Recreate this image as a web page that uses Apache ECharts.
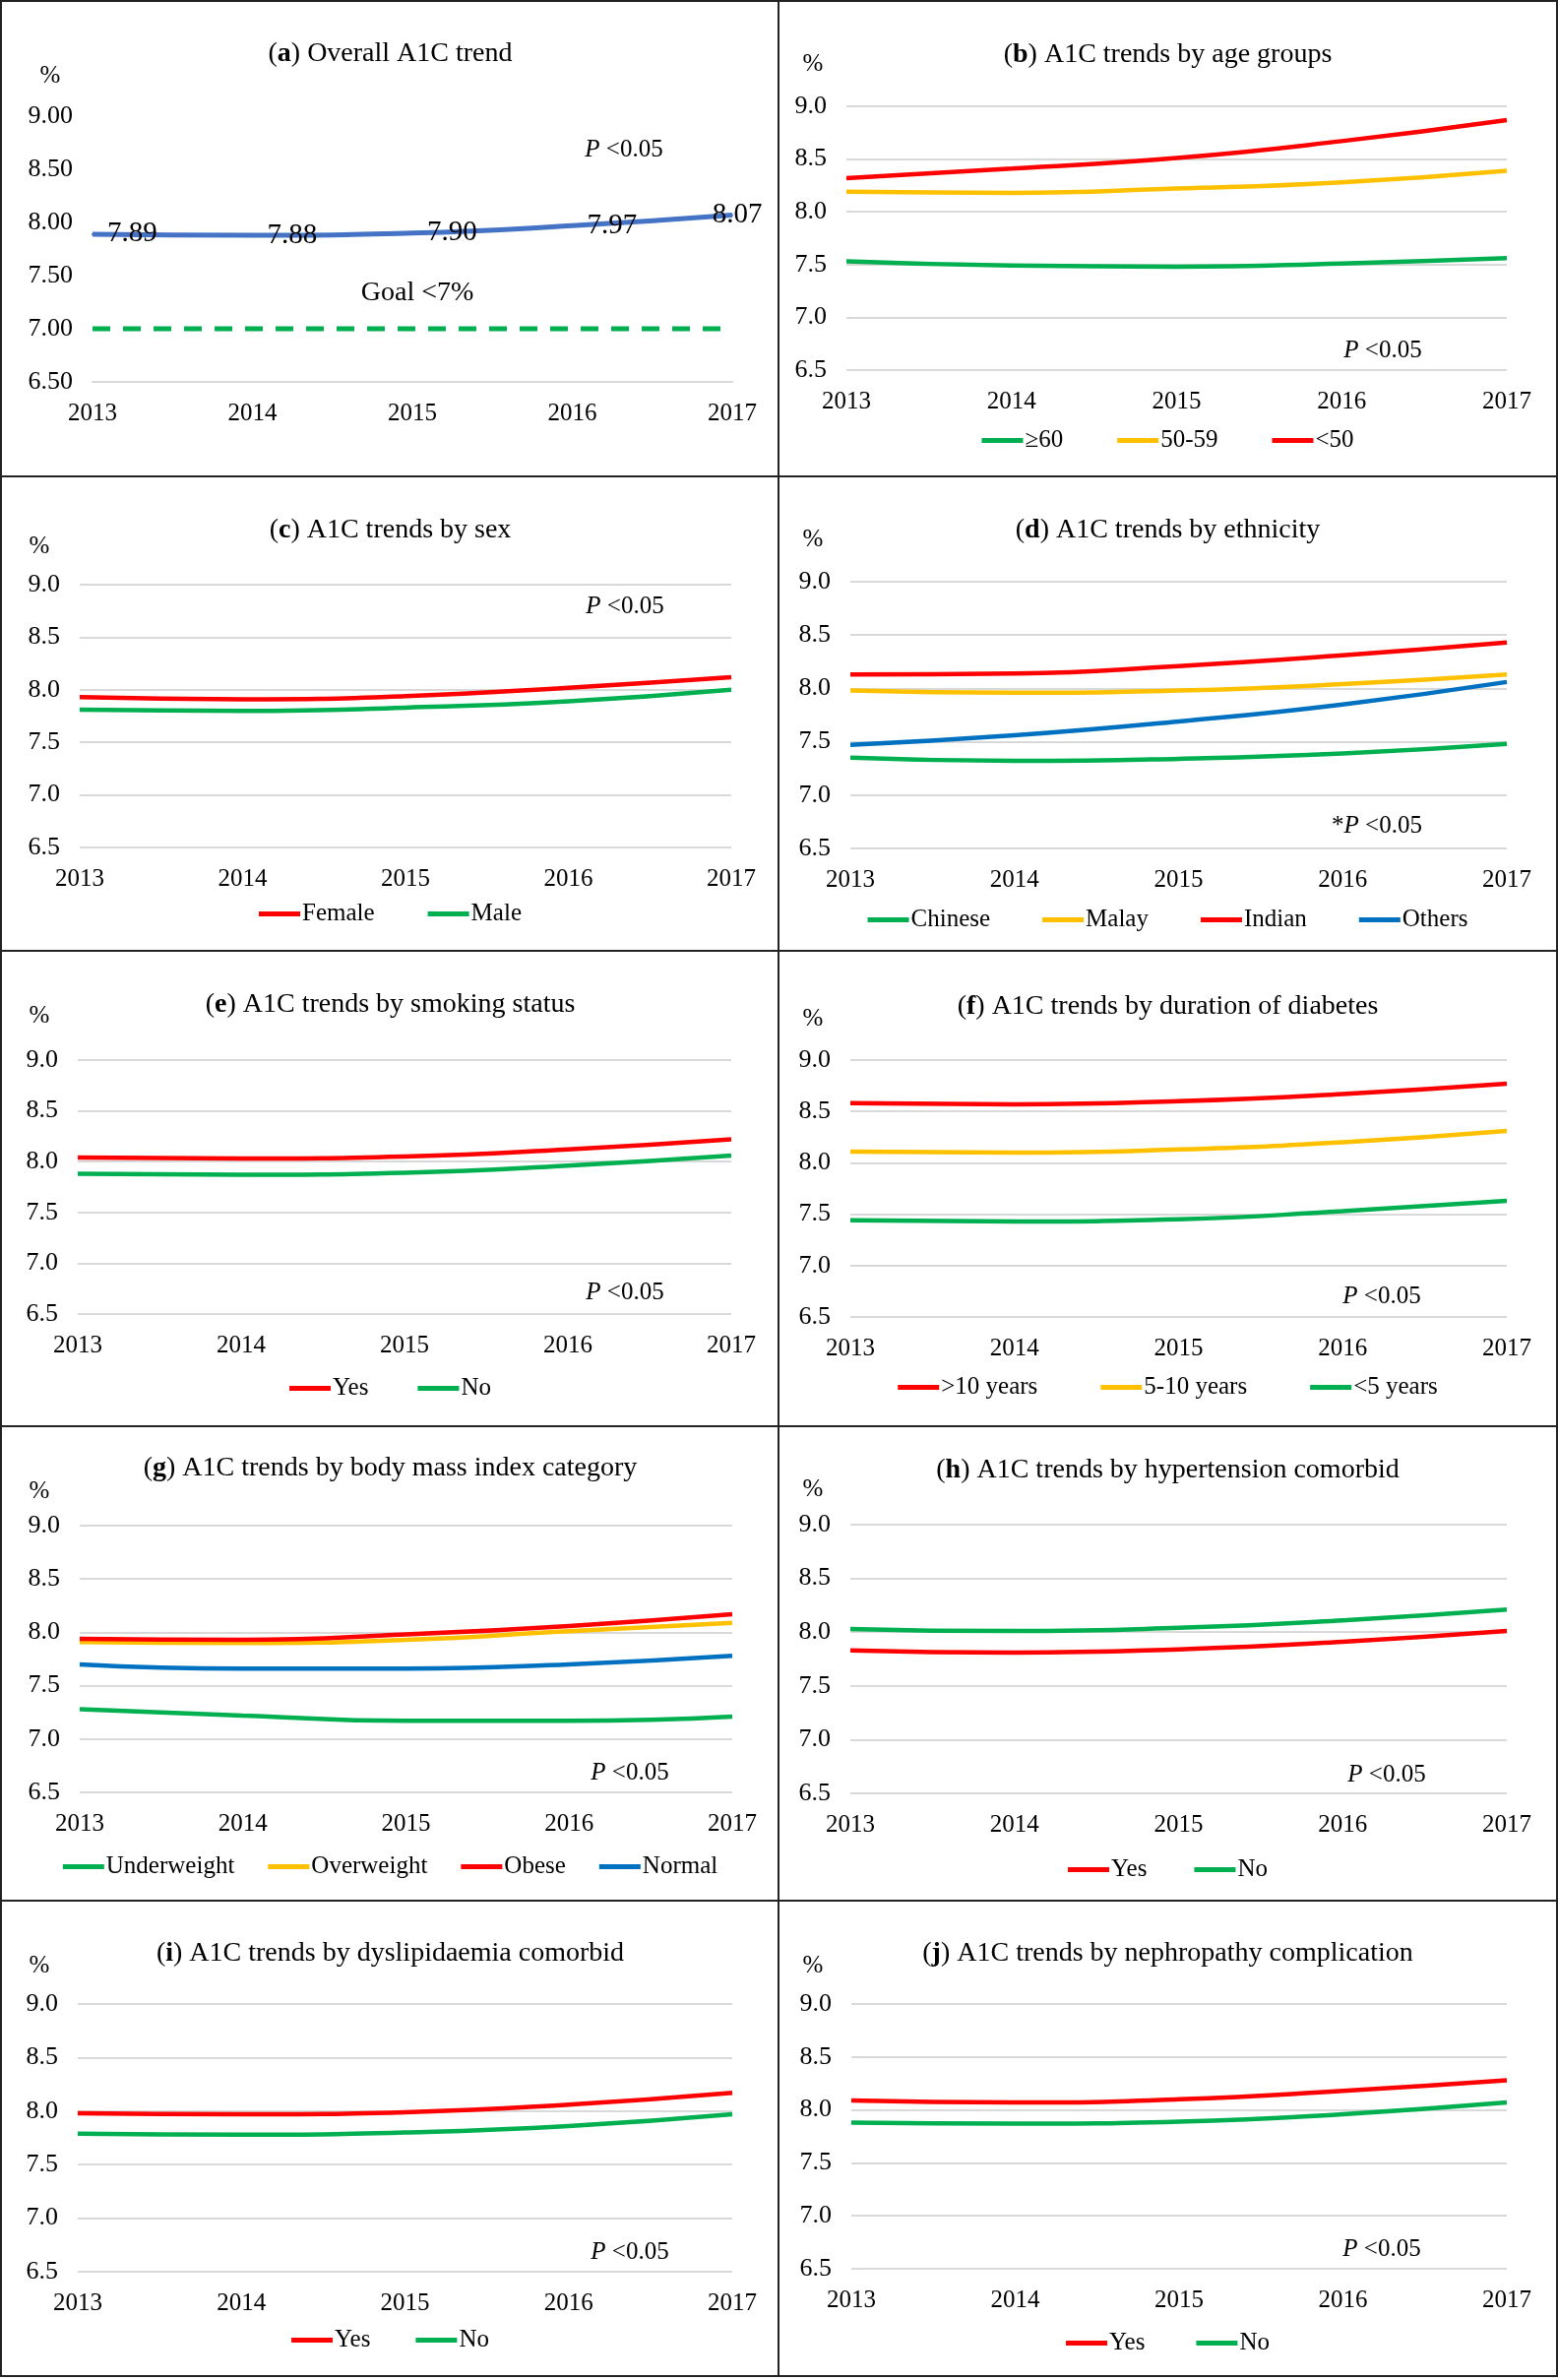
<!DOCTYPE html>
<html>
<head>
<meta charset="utf-8">
<script src="https://cdn.jsdelivr.net/npm/echarts@6/dist/echarts.min.js"></script>
<style>
html, body { margin: 0; padding: 0; background: #fff; }
#page { position: relative; width: 1583px; height: 2418px; }
.panel { position: absolute; box-sizing: border-box; border: 2px solid #222; background: #fff; }
.panel .c { position: absolute; left: 0; top: 0; right: 0; bottom: 0; }
</style>
</head>
<body>
<div id="page"></div>
<script>
// years on the x axis
const years = ['2013', '2014', '2015', '2016', '2017'];

// (a) overall
const overall = [7.89, 7.88, 7.90, 7.97, 8.07];
const goalLine = [7.00, 7.00, 7.00, 7.00, 7.00];
// (b) age groups
const age60plus = [7.53, 7.49, 7.48, 7.51, 7.56];
const age50to59 = [8.19, 8.18, 8.22, 8.28, 8.39];
const ageUnder50 = [8.32, 8.41, 8.51, 8.67, 8.87];
// (c) sex
const female = [7.93, 7.91, 7.94, 8.02, 8.12];
const male = [7.81, 7.80, 7.83, 7.89, 8.00];
// (d) ethnicity
const chinese = [7.35, 7.32, 7.34, 7.39, 7.48];
const malay = [7.98, 7.96, 7.98, 8.04, 8.13];
const indian = [8.13, 8.14, 8.21, 8.31, 8.43];
const others = [7.47, 7.56, 7.69, 7.85, 8.06];
// (e) smoking
const smokeYes = [8.04, 8.03, 8.05, 8.12, 8.22];
const smokeNo = [7.88, 7.87, 7.89, 7.96, 8.06];
// (f) duration of diabetes
const dur10plus = [8.58, 8.57, 8.60, 8.67, 8.77];
const dur5to10 = [8.11, 8.10, 8.13, 8.20, 8.31];
const durUnder5 = [7.44, 7.43, 7.45, 7.53, 7.63];
// (g) BMI
const underweight = [7.28, 7.22, 7.17, 7.17, 7.21];
const overweight = [7.91, 7.90, 7.93, 8.01, 8.09];
const obese = [7.94, 7.93, 7.98, 8.06, 8.17];
const normal = [7.70, 7.66, 7.66, 7.70, 7.78];
// (h) hypertension
const htnYes = [7.83, 7.81, 7.84, 7.91, 8.01];
const htnNo = [8.03, 8.01, 8.04, 8.11, 8.21];
// (i) dyslipidaemia
const dysYes = [7.98, 7.97, 7.99, 8.06, 8.17];
const dysNo = [7.79, 7.78, 7.80, 7.86, 7.97];
// (j) nephropathy
const nephYes = [8.09, 8.07, 8.10, 8.18, 8.28];
const nephNo = [7.88, 7.87, 7.89, 7.96, 8.07];

const FONT = '"Liberation Serif", "Times New Roman", serif';
const RED = '#FF0000', GREEN = '#00B050', YELLOW = '#FFC000', BLUE = '#0070C0';

// layout of each panel (panel-relative px): plot edges, title, % sign, P text, legend
const panels = [
  {key: 'a', title: 'Overall A1C trend', L: 94, R: 744, y9: 118, y65: 388, ty: 52, pct: [51, 77], p: [634, 152], leg: null,
    series: []},
  {key: 'b', title: 'A1C trends by age groups', L: 70, R: 741, y9: 108, y65: 376, ty: 53, pct: [36, 65], p: [615, 356], leg: 444, gap: 55,
    series: [['\u226560', age60plus, GREEN], ['50-59', age50to59, YELLOW], ['<50', ageUnder50, RED]]},
  {key: 'c', title: 'A1C trends by sex', L: 81, R: 743, y9: 111, y65: 378, ty: 53, pct: [40, 72], p: [635, 133], leg: 442, gap: 54,
    series: [['Female', female, RED], ['Male', male, GREEN]]},
  {key: 'd', title: 'A1C trends by ethnicity', L: 74, R: 741, y9: 108, y65: 379, ty: 53, pct: [36, 65], p: [609, 356], leg: 448, gap: 53, star: true,
    series: [['Chinese', chinese, GREEN], ['Malay', malay, YELLOW], ['Indian', indian, RED], ['Others', others, BLUE]]},
  {key: 'e', title: 'A1C trends by smoking status', L: 79, R: 743, y9: 112, y65: 370, ty: 53, pct: [40, 67], p: [635, 348], leg: 442, gap: 50,
    series: [['Yes', smokeYes, RED], ['No', smokeNo, GREEN]]},
  {key: 'f', title: 'A1C trends by duration of diabetes', L: 74, R: 741, y9: 112, y65: 373, ty: 55, pct: [36, 70], p: [614, 352], leg: 441, gap: 64,
    series: [['>10 years', dur10plus, RED], ['5-10 years', dur5to10, YELLOW], ['<5 years', durUnder5, GREEN]]},
  {key: 'g', title: 'A1C trends by body mass index category', L: 81, R: 744, y9: 102, y65: 373, ty: 41, pct: [40, 67], p: [640, 353], leg: 445, gap: 34,
    series: [['Underweight', underweight, GREEN], ['Overweight', overweight, YELLOW], ['Obese', obese, RED], ['Normal', normal, BLUE]]},
  {key: 'h', title: 'A1C trends by hypertension comorbid', L: 74, R: 741, y9: 101, y65: 374, ty: 43, pct: [36, 65], p: [619, 355], leg: 448, gap: 48,
    series: [['Yes', htnYes, RED], ['No', htnNo, GREEN]]},
  {key: 'i', title: 'A1C trends by dyslipidaemia comorbid', L: 79, R: 744, y9: 106, y65: 378, ty: 52, pct: [40, 67], p: [640, 358], leg: 444, gap: 46,
    series: [['Yes', dysYes, RED], ['No', dysNo, GREEN]]},
  {key: 'j', title: 'A1C trends by nephropathy complication', L: 75, R: 741, y9: 106, y65: 375, ty: 52, pct: [36, 67], p: [614, 355], leg: 447, gap: 52,
    series: [['Yes', nephYes, RED], ['No', nephNo, GREEN]]}
];

const page = document.getElementById('page');

panels.forEach(function (pn, idx) {
  const col = idx % 2, row = Math.floor(idx / 2);
  const box = document.createElement('div');
  box.className = 'panel';
  box.style.left = (col ? 790 : 0) + 'px';
  box.style.width = '793px';
  box.style.top = Math.round(row * 482.5) + 'px';
  box.style.height = '485px';
  const c = document.createElement('div');
  c.className = 'c';
  box.appendChild(c);
  page.appendChild(box);

  const chart = echarts.init(c);
  const W = chart.getWidth(), H = chart.getHeight();
  const isA = pn.key === 'a';

  let series;
  if (isA) {
    series = [
      {
        name: 'Goal', type: 'line', data: goalLine, symbol: 'none', silent: true,
        lineStyle: {color: GREEN, width: 5, type: [18, 13]}
      },
      {
        name: 'Overall', type: 'line', smooth: true, symbol: 'circle', symbolSize: 2, showSymbol: true,
        itemStyle: {color: '#4472C4'},
        lineStyle: {color: '#4472C4', width: 5},
        data: overall.map(function (v, i) {
          return i === overall.length - 1 ? {value: v, label: {position: 'inside', offset: [5, 0]}} : v;
        }),
        label: {
          show: true, position: 'right', distance: 14, color: '#000',
          fontSize: 29, fontFamily: FONT,
          formatter: function (p) { return p.value.toFixed(2); }
        }
      }
    ];
  } else {
    series = pn.series.map(function (s) {
      return {
        name: s[0], type: 'line', smooth: true, symbol: 'none', data: s[1],
        itemStyle: {color: s[2]},
        lineStyle: {color: s[2], width: 4.5}
      };
    });
  }

  const graphic = [
    {type: 'text', x: pn.pct[0] - 2, y: pn.pct[1] - 2,
      style: {text: '%', fontSize: 25, fontFamily: FONT, fill: '#000', align: 'center', verticalAlign: 'middle'}},
    {type: 'text', x: pn.p[0] - 2, y: pn.p[1] - 2,
      style: {
        text: (pn.star ? '*' : '') + '{i|P} <0.05', fontSize: 25, fontFamily: FONT, fill: '#000',
        align: 'center', verticalAlign: 'middle',
        rich: {i: {fontStyle: 'italic', fontSize: 25, fontFamily: FONT, fill: '#000'}}
      }}
  ];
  if (isA) {
    graphic.push({type: 'text', x: 424 - 2, y: 298 - 2,
      style: {text: 'Goal <7%', fontSize: 28, fontFamily: FONT, fill: '#000', align: 'center', verticalAlign: 'middle'}});
  }

  const option = {
    animation: false,
    backgroundColor: '#fff',
    title: {
      text: '({b|' + pn.key + '}) ' + pn.title,
      left: 'center', top: pn.ty - 2 - 16,
      textStyle: {
        fontSize: 28, fontWeight: 'normal', fontFamily: FONT, color: '#000',
        rich: {b: {fontSize: 28, fontWeight: 'bold', fontFamily: FONT, color: '#000'}}
      }
    },
    grid: {
      left: pn.L - 2, right: W - (pn.R - 2),
      top: pn.y9 - 2, bottom: H - (pn.y65 - 2),
      containLabel: false
    },
    xAxis: {
      type: 'category', boundaryGap: false, data: years,
      axisTick: {show: false},
      axisLine: {show: isA, lineStyle: {color: '#D9D9D9', width: 2}},
      axisLabel: {color: '#000', fontSize: 25, fontFamily: FONT, margin: 20}
    },
    yAxis: {
      type: 'value', min: 6.5, max: 9, interval: 0.5,
      axisLine: {show: false}, axisTick: {show: false},
      splitLine: {show: !isA, lineStyle: {color: '#D9D9D9', width: 2}},
      axisLabel: {
        color: '#000', fontSize: 26, fontFamily: FONT, margin: 20,
        formatter: function (v) { return v.toFixed(isA ? 2 : 1); }
      }
    },
    graphic: graphic,
    series: series
  };

  if (pn.leg) {
    option.legend = {
      data: pn.series.map(function (s) { return s[0]; }),
      left: 'center', top: pn.leg - 2 - 14,
      icon: 'rect', itemWidth: 42, itemHeight: 5, itemGap: pn.gap,
      selectedMode: false,
      textStyle: {fontSize: 25, fontFamily: FONT, color: '#000', padding: [0, 0, 0, -3]}
    };
  }

  chart.setOption(option);
});
</script>
</body>
</html>
